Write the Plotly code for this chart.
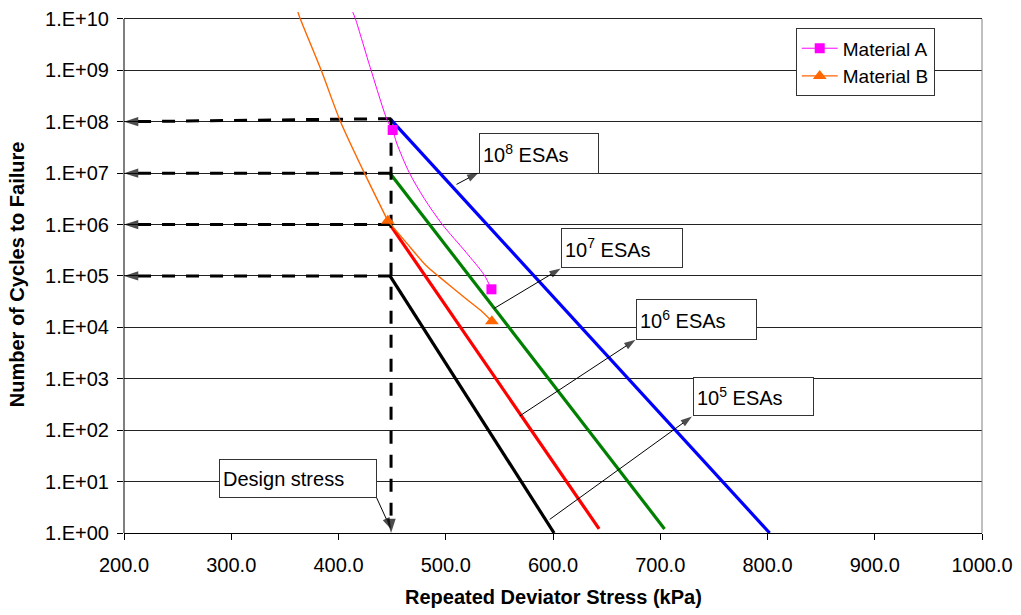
import plotly.graph_objects as go

# ---------------- data ----------------
x_ticks = [200, 300, 400, 500, 600, 700, 800, 900, 1000]
x_tick_labels = ["200.0", "300.0", "400.0", "500.0", "600.0", "700.0", "800.0", "900.0", "1000.0"]
y_tick_vals = [1e0, 1e1, 1e2, 1e3, 1e4, 1e5, 1e6, 1e7, 1e8, 1e9, 1e10]
y_tick_labels = ["1.E+00", "1.E+01", "1.E+02", "1.E+03", "1.E+04", "1.E+05",
                 "1.E+06", "1.E+07", "1.E+08", "1.E+09", "1.E+10"]

design_stress = 449
esa_levels = [1e8, 1e7, 1e6, 1e5]
esa_start_stress = [448, 448, 448, 448]
esa_start_n = [1.15e8, 1e7, 1e6, 1e5]
esa_end_stress = [802, 704, 643, 601]
esa_end_n = [1.0, 1.2, 1.2, 1.0]
esa_colors = ["#0000FF", "#008000", "#FF0000", "#000000"]

matA_curve_x = [413.3, 415.8, 430.4, 445.9, 450.5, 454.2, 466.0, 480.0, 496.7, 518.8, 535.8, 542.6]
matA_curve_n = [1.36e10, 1e10, 1e9, 1.01e8, 6.9e7, 3.86e7, 1.02e7, 3.2e6, 1.01e6, 2.9e5, 1.05e5, 5.5e4]
matA_pts_x = [450.5, 542.6]
matA_pts_n = [6.9e7, 5.5e4]

matB_upper_x = [362.1, 364.4, 383.9, 401.9, 424.2, 446.0]
matB_upper_n = [1.36e10, 1e10, 1e9, 1e8, 1e7, 1.18e6]
matB_lower_x = [446.0, 463.0, 481.6, 494.0, 518.9, 534.2, 543.0]
matB_lower_n = [1.18e6, 4.5e5, 1.6e5, 9.6e4, 3.6e4, 2.0e4, 1.32e4]
matB_pts_x = [446.0, 543.0]
matB_pts_n = [1.18e6, 1.32e4]

# ---------------- layout helpers ----------------
W, H = 1021, 615
PL, PR, PT, PB = 124, 984, 8, 533
X_MIN, X_MAX = 200, 1000
Y_TOP = 10.135


def pxx(px):
    return (px - PL) / (PR - PL)


def pxy(py):
    return (PB - py) / (PB - PT)


def px_to_stress(px):
    return X_MIN + (px - PL) * (X_MAX - X_MIN) / (PR - PL)


def py_to_n(py):
    return 10 ** ((PB - py) * Y_TOP / (PB - PT))


FONT = "Liberation Sans, Arial, sans-serif"
FS = 20

fig = go.Figure()

# ESA lines
for xs, ns, xe, ne, c in zip(esa_start_stress, esa_start_n, esa_end_stress, esa_end_n, esa_colors):
    fig.add_trace(go.Scatter(x=[xs, xe], y=[ns, ne], mode="lines",
                             line=dict(color=c, width=3.2), showlegend=False, hoverinfo="skip"))

# dashed design lines with arrowheads
DASH = "13px,11px"
for n0, n in zip(esa_start_n, esa_levels):
    fig.add_trace(go.Scatter(x=[design_stress, X_MIN], y=[n0, n], mode="lines+markers",
                             line=dict(color="black", width=3, dash=DASH),
                             marker=dict(symbol="arrow", size=[0, 15], color="black",
                                         angleref="previous", line=dict(width=0)),
                             cliponaxis=False, showlegend=False, hoverinfo="skip"))
fig.add_trace(go.Scatter(x=[design_stress, design_stress], y=[esa_start_n[0], 1.0],
                         mode="lines+markers",
                         line=dict(color="black", width=3, dash=DASH),
                         marker=dict(symbol="arrow", size=[0, 15], color="black",
                                     angleref="previous", line=dict(width=0)),
                         cliponaxis=False, showlegend=False, hoverinfo="skip"))

# Material A
fig.add_trace(go.Scatter(x=matA_curve_x, y=matA_curve_n, mode="lines",
                         line=dict(color="#FF00FF", width=1, shape="spline", smoothing=0.8),
                         showlegend=False, hoverinfo="skip"))
fig.add_trace(go.Scatter(x=matA_pts_x, y=matA_pts_n, mode="markers",
                         marker=dict(symbol="square", size=10, color="#FF00FF"),
                         showlegend=False))
# Material B
fig.add_trace(go.Scatter(x=matB_upper_x, y=matB_upper_n, mode="lines",
                         line=dict(color="#FF6600", width=1.4, shape="spline", smoothing=0.8),
                         showlegend=False, hoverinfo="skip"))
fig.add_trace(go.Scatter(x=matB_lower_x, y=matB_lower_n, mode="lines",
                         line=dict(color="#FF6600", width=1.4, shape="spline", smoothing=0.8),
                         showlegend=False, hoverinfo="skip"))
fig.add_trace(go.Scatter(x=matB_pts_x, y=matB_pts_n, mode="markers",
                         marker=dict(symbol="triangle-up", size=12, color="#FF6600"),
                         showlegend=False))

# legend entries
fig.add_trace(go.Scatter(x=[None], y=[None], mode="lines+markers", name="Material A",
                         line=dict(color="#FF00FF", width=1),
                         marker=dict(symbol="square", size=10, color="#FF00FF")))
fig.add_trace(go.Scatter(x=[None], y=[None], mode="lines+markers", name="Material B",
                         line=dict(color="#FF6600", width=1.4),
                         marker=dict(symbol="triangle-up", size=12, color="#FF6600")))

# callout arrows (tail px -> tip px), drawn as thin lines with arrow markers
callouts = [
    ((457.3, 181.7), (479.3, 170)),
    ((495, 306.7), (561.7, 266.5)),
    ((520.7, 415), (636.7, 338.3)),
    ((550.7, 519.3), (693.3, 415.7)),
    ((377.3, 497.7), (391.5, 529)),
]
for (sx, sy), (tx, ty) in callouts:
    fig.add_trace(go.Scatter(x=[px_to_stress(sx), px_to_stress(tx)], y=[py_to_n(sy), py_to_n(ty)],
                             mode="lines+markers", line=dict(color="black", width=1),
                             marker=dict(symbol="arrow", size=[0, 12], color="black",
                                         angleref="previous", line=dict(width=0)),
                             cliponaxis=False, showlegend=False, hoverinfo="skip"))

annotations = []
# text boxes (left, top, width, height in px)
boxes = [
    ("10<sup>8</sup> ESAs", 480, 130, 120, 41),
    ("10<sup>7</sup> ESAs", 561.7, 225.7, 122, 40),
    ("10<sup>6</sup> ESAs", 637.3, 297.7, 121, 41),
    ("10<sup>5</sup> ESAs", 694.3, 375.7, 121, 39),
    ("Design stress", 219, 458.3, 158, 39),
]
for txt, l, t, w, h in boxes:
    annotations.append(dict(x=pxx(l), y=pxy(t), xref="paper", yref="paper",
                            xanchor="left", yanchor="top", text=txt, showarrow=False,
                            align="left", valign="middle", width=w - 8, height=h - 8,
                            borderpad=3, borderwidth=1, bordercolor="#333333",
                            bgcolor="white", font=dict(family=FONT, size=FS, color="black")))

# axis titles
annotations.append(dict(x=0.5, y=pxy(597), xref="paper", yref="paper",
                        text="<b>Repeated Deviator Stress (kPa)</b>", showarrow=False,
                        xanchor="center", yanchor="middle",
                        font=dict(family=FONT, size=FS, color="black")))
annotations.append(dict(x=pxx(17), y=pxy(272), xref="paper", yref="paper",
                        text="<b>Number of Cycles to Failure</b>", showarrow=False,
                        textangle=-90, xanchor="center", yanchor="middle",
                        font=dict(family=FONT, size=FS, color="black")))

top_paper = 10 / Y_TOP
shapes = [
    dict(type="line", xref="paper", yref="paper", x0=0, x1=0, y0=0, y1=top_paper,
         line=dict(color="black", width=1)),
    dict(type="line", xref="paper", yref="paper", x0=1, x1=1, y0=0, y1=top_paper,
         line=dict(color="#808080", width=1)),
]

fig.update_layout(
    width=W, height=H,
    margin=dict(l=PL, r=W - PR, t=PT, b=H - PB),
    paper_bgcolor="white", plot_bgcolor="white",
    font=dict(family=FONT, size=FS, color="black"),
    showlegend=True,
    legend=dict(x=pxx(797.3), y=pxy(24.5), xanchor="left", yanchor="top",
                bgcolor="white", bordercolor="#333333", borderwidth=1,
                font=dict(family=FONT, size=19, color="black"),
                itemwidth=36),
    annotations=annotations,
    shapes=shapes,
    xaxis=dict(range=[X_MIN, X_MAX], tickvals=x_ticks, ticktext=x_tick_labels,
               showgrid=False, zeroline=False, showline=True, linecolor="black", linewidth=1,
               ticks="outside", ticklen=6, tickcolor="black", ticklabelstandoff=8,
               tickfont=dict(family=FONT, size=FS, color="black")),
    yaxis=dict(type="log", range=[0, Y_TOP], tickvals=y_tick_vals, ticktext=y_tick_labels,
               showgrid=True, gridcolor="#222222", gridwidth=1, zeroline=False,
               showline=False, ticks="outside", ticklen=6, tickcolor="black",
               ticklabelstandoff=4,
               tickfont=dict(family=FONT, size=FS, color="black")),
)

fig.write_html("out.html")
